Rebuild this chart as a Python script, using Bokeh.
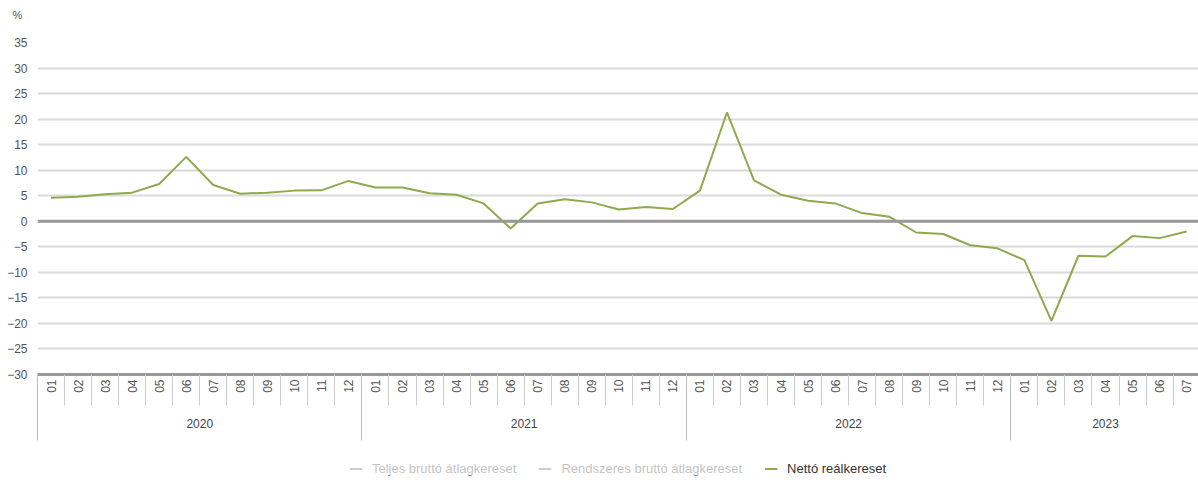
import math
from bokeh.plotting import figure
from bokeh.layouts import column
from bokeh.models import (Range1d, LinearAxis, FixedTicker, Span, Legend, LegendItem,
                          ColumnDataSource, Title)
from bokeh.embed import file_html
from bokeh.resources import INLINE

# ---- data ----
years = [2020] * 12 + [2021] * 12 + [2022] * 12 + [2023] * 7
months = ["01", "02", "03", "04", "05", "06", "07", "08", "09", "10", "11", "12"] * 3 + \
         ["01", "02", "03", "04", "05", "06", "07"]
netto_realkereset = [4.6, 4.8, 5.3, 5.6, 7.3, 12.6, 7.1, 5.4, 5.6, 6.0, 6.05, 7.9,
                     6.6, 6.6, 5.5, 5.2, 3.5, -1.4, 3.5, 4.3, 3.7, 2.3, 2.8, 2.4,
                     6.0, 21.3, 8.0, 5.2, 4.0, 3.5, 1.6, 0.9, -2.2, -2.5, -4.7, -5.3,
                     -7.6, -19.5, -6.75, -6.9, -2.9, -3.3, -2.0]
y_ticks = list(range(-30, 36, 5))
unit_label = "%"
series_names = ["Teljes bruttó átlagkereset", "Rendszeres bruttó átlagkereset", "Nettó reálkereset"]

idx = list(range(len(months)))
year_list = sorted(set(years))
year_centers = [sum(i for i in idx if years[i] == y) / years.count(y) for y in year_list]
year_starts = [min(i for i in idx if years[i] == y) - 0.5 for y in year_list]

FONT = "Liberation Sans"
GREEN = "#8fa94f"

p = figure(width=1198, height=453, output_backend="svg", toolbar_location=None,
           title=None,
           x_range=Range1d(-0.5, 42.44), y_range=Range1d(-30, 35),
           x_axis_location=None, min_border_left=37, min_border_right=0,
           min_border_top=42, min_border_bottom=79)
p.outline_line_color = None
p.background_fill_color = "white"
p.border_fill_color = "white"

# spacer title + unit title "%"
p.add_layout(Title(text=" ", text_font=FONT, text_font_size="11px", standoff=8), "above")
p.add_layout(Title(text=unit_label, align="left", offset=-25, standoff=0,
                   text_font=FONT, text_font_size="11px", text_font_style="normal",
                   text_color="#555555"), "above")

# y axis
p.yaxis.ticker = FixedTicker(ticks=y_ticks)
p.yaxis.axis_line_color = None
p.yaxis.major_tick_line_color = None
p.yaxis.minor_tick_line_color = None
p.yaxis.major_label_standoff = 4
p.yaxis.major_label_text_font = FONT
p.yaxis.major_label_text_font_size = "12px"
p.yaxis.major_label_text_color = "#555555"
p.ygrid.ticker = FixedTicker(ticks=y_ticks)
p.ygrid.grid_line_color = "#dadada"
p.ygrid.grid_line_width = 2
p.xgrid.grid_line_color = None

# zero line
p.add_layout(Span(location=0, dimension="width", line_color="#999999", line_width=3))

# month axis
month_axis = LinearAxis(
    ticker=FixedTicker(ticks=idx, minor_ticks=[i - 0.5 for i in idx] + [idx[-1] + 0.5]),
    major_label_overrides={i: months[i] for i in idx},
    major_label_orientation=math.pi / 2,
    major_label_standoff=-26,
    major_label_text_font=FONT,
    major_label_text_font_size="12px",
    major_label_text_color="#555555",
    major_tick_in=0, major_tick_out=0, major_tick_line_color=None,
    minor_tick_in=0, minor_tick_out=31, minor_tick_line_color="#cccccc",
    axis_line_color="#999999", axis_line_width=3,
)
p.add_layout(month_axis, "below")

# year axis
year_axis = LinearAxis(
    ticker=FixedTicker(ticks=year_centers, minor_ticks=year_starts),
    major_label_overrides={c: str(y) for c, y in zip(year_centers, year_list)},
    major_label_standoff=-22,
    major_label_text_font=FONT,
    major_label_text_font_size="12px",
    major_label_text_color="#444444",
    major_tick_in=0, major_tick_out=0, major_tick_line_color=None,
    minor_tick_in=18, minor_tick_out=45, minor_tick_line_color="#bbbbbb",
    minor_tick_line_width=1,
    axis_line_color=None,
)
p.add_layout(year_axis, "below")

# series
src = ColumnDataSource(data=dict(x=idx, y=netto_realkereset))
p.line("x", "y", source=src, line_color=GREEN, line_width=2)

# legend in its own strip below the chart (placeholder sources only feed legend keys)
lf = figure(width=1198, height=30, output_backend="svg", toolbar_location=None,
            x_range=Range1d(0, 1), y_range=Range1d(0, 1),
            min_border_left=14, min_border_right=0, min_border_top=0, min_border_bottom=0)
lf.outline_line_color = None
lf.axis.visible = False
lf.grid.visible = False
key = ColumnDataSource(data=dict(x=[float("nan")], y=[float("nan")]))
r1 = lf.line("x", "y", source=key, line_color="#555555", line_width=2, visible=False)
r2 = lf.line("x", "y", source=key, line_color="#555555", line_width=2, visible=False)
r3 = lf.line("x", "y", source=key, line_color=GREEN, line_width=2)

legend = Legend(items=[LegendItem(label=series_names[0], renderers=[r1]),
                       LegendItem(label=series_names[1], renderers=[r2]),
                       LegendItem(label=series_names[2], renderers=[r3])],
                orientation="horizontal", location="center", click_policy="hide",
                margin=0, padding=3, spacing=22, glyph_width=13, glyph_height=14,
                label_standoff=10, label_text_font=FONT, label_text_font_size="13px",
                label_text_color="#333333", border_line_color=None,
                background_fill_alpha=0)
lf.add_layout(legend, "center")

open("out.html", "w").write(file_html(column(p, lf, spacing=0), INLINE))
